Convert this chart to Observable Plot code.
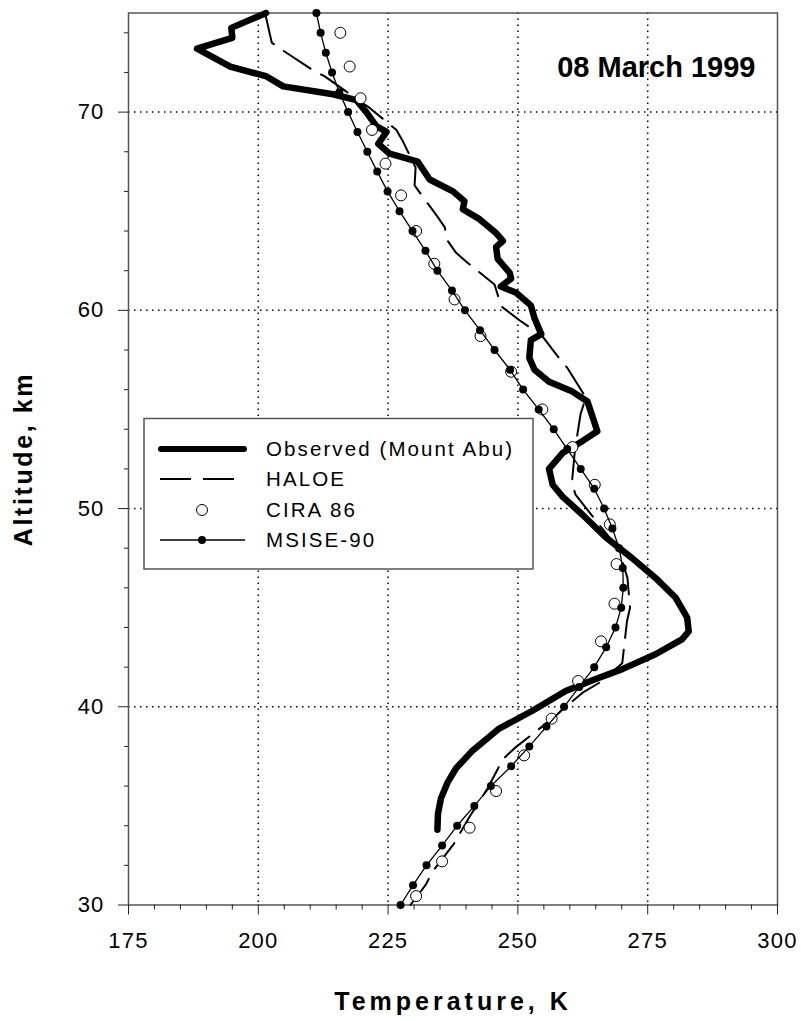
<!DOCTYPE html>
<html>
<head>
<meta charset="utf-8">
<script src="https://cdn.jsdelivr.net/npm/d3@7"></script>
<script src="https://cdn.jsdelivr.net/npm/@observablehq/plot@0.6"></script>
<style>
  html, body { margin: 0; padding: 0; background: #fff; }
  #wrap { position: relative; width: 801px; height: 1021px; font-family: "Liberation Sans", Arial, sans-serif; }
  #legend { position: absolute; left: 0; top: 0; pointer-events: none; }
  g[aria-label="x-axis label"] text { font-weight: bold; font-size: 25px; letter-spacing: 4px; }
  g[aria-label="y-axis label"] text { font-weight: bold; font-size: 25px; letter-spacing: 2.6px; }
  g[aria-label="x-axis tick label"] text, g[aria-label="y-axis tick label"] text { letter-spacing: 1.2px; }
</style>
</head>
<body>
<div id="wrap"></div>
<script>
// ---- Data ----
// MSISE-90 model: altitude (km) and temperature (K)
const msiseAlt = [30,31,32,33,34,35,36,37,38,39,40,41,42,43,44,45,46,47,48,49,50,51,52,53,54,55,56,57,58,59,60,61,62,63,64,65,66,67,68,69,70,71,72,73,74,75];
const msiseT   = [227.4,229.8,232.4,235.4,238.3,241.6,244.8,248.7,252.2,255.5,258.9,261.8,264.7,267.0,268.8,269.9,270.3,270.2,269.5,268.2,266.6,264.7,262.1,259.5,256.9,254.0,251.0,248.5,245.5,242.7,239.8,237.3,234.5,232.2,229.7,227.2,224.9,222.9,221.0,219.1,217.3,215.6,214.2,213.0,212.0,211.2];

// CIRA 86 model
const ciraAlt = [30.45,32.2,33.9,35.75,37.55,39.4,41.3,43.3,45.2,47.2,49.2,51.2,53.1,55.0,56.9,58.7,60.55,62.35,64.0,65.8,67.4,69.1,70.7,72.3,74.0];
const ciraT   = [230.4,235.4,240.7,245.8,251.2,256.5,261.6,266.0,268.6,269.0,267.7,264.8,260.5,254.7,248.7,242.8,237.8,233.9,230.4,227.5,224.5,221.9,219.7,217.6,215.8];

// HALOE
const haloeAlt = [30.0,31.0,31.7,33.1,34.5,35.9,37.35,37.9,39.4,40.7,41.2,42.2,44.3,45.0,46.5,48.0,49.2,50.7,51.3,53.0,54.8,55.6,57.1,57.7,58.7,59.5,60.2,61.3,62.4,62.9,63.5,64.2,64.8,66.3,67.2,68.5,69.1,70.2,71.8,72.1,73.1,73.5,75.0];
const haloeT   = [229.3,232.2,233.6,237.7,240.8,244.2,247.1,249.3,256.6,262.4,265.6,270.1,271.0,271.6,271.1,269.3,265.6,261.1,260.4,261.0,262.1,263.1,259.5,257.6,254.7,250.3,246.8,245.5,240.3,238.1,236.5,235.9,234.3,230.1,230.3,227.9,226.6,221.5,212.8,210.6,204.8,202.6,201.3];

// Observed (Mount Abu) lidar profile
const obsAlt = [33.8,34.6,35.4,36.2,36.9,37.8,38.9,39.8,40.8,41.4,41.9,42.65,43.4,43.8,44.5,45.5,46.5,47.5,48.55,49.7,50.6,51.2,52.0,52.8,53.4,53.9,55.4,55.9,56.4,57.0,57.6,58.5,58.8,59.6,60.25,60.9,61.2,61.6,61.9,62.6,63.2,63.5,63.9,64.6,65.1,65.5,66.0,66.6,67.5,67.9,68.4,69.0,69.3,70.0,70.6,70.9,71.3,71.8,72.3,73.2,73.75,74.25,75.0];
const obsT   = [234.5,234.6,235.2,236.5,238.1,241.3,246.4,252.8,259.2,265.0,270.1,276.5,281.6,282.9,282.6,280.4,276.5,272.0,266.9,262.4,258.6,256.7,256.0,258.6,262.4,265.3,263.4,260.5,256.0,253.2,252.2,252.5,254.5,253.2,252.5,249.6,246.7,248.7,248.4,246.1,245.8,247.1,245.8,242.6,239.4,239.7,237.5,233.0,230.7,225.3,223.1,224.7,222.7,220.8,218.9,214.4,204.8,201.6,194.6,188.2,195.0,194.8,201.5];

// Axis ticks and labels
const xTicks = [175,200,225,250,275,300];
const yTicks = [30,40,50,60,70];
const xGridLines = [200,225,250,275];
const yGridLines = [40,50,60,70];
const xMinorTicks = [180,185,190,195,205,210,215,220,230,235,240,245,255,260,265,270,280,285,290,295];
const yMinorTicks = [32,34,36,38,42,44,46,48,52,54,56,58,62,64,66,68,72,74];

const seriesNames = ["Observed (Mount Abu)", "HALOE", "CIRA 86", "MSISE-90"];
const dateLabel = "08 March 1999";

// ---- Tables ----
const msise = msiseAlt.map((a, i) => ({alt: a, t: msiseT[i]}));
const cira  = ciraAlt.map((a, i) => ({alt: a, t: ciraT[i]}));
const haloe = haloeAlt.map((a, i) => ({alt: a, t: haloeT[i]}));
const obs   = obsAlt.map((a, i) => ({alt: a, t: obsT[i]}));

const FONT = '"Liberation Sans", Arial, sans-serif';

const chart = Plot.plot({
  width: 801,
  height: 1021,
  marginLeft: 128,
  marginRight: 24,
  marginTop: 12.5,
  marginBottom: 116.5,
  style: {fontFamily: FONT, background: "#fff", color: "#000", overflow: "visible"},
  x: {domain: [175, 300]},
  y: {domain: [30, 75]},
  marks: [
    Plot.gridX(xGridLines, {stroke: "#000", strokeOpacity: 1, strokeWidth: 1.5, strokeDasharray: "1.5,4.5"}),
    Plot.gridY(yGridLines, {stroke: "#000", strokeOpacity: 1, strokeWidth: 1.5, strokeDasharray: "1.5,4.5"}),
    Plot.frame({stroke: "#555", strokeWidth: 1.5}),
    Plot.axisX({ticks: xMinorTicks, tickSize: 5, tickFormat: () => "", label: null, stroke: "#222"}),
    Plot.axisY({ticks: yMinorTicks, tickSize: 4, tickFormat: () => "", label: null, stroke: "#222"}),
    Plot.axisX({ticks: xTicks, tickSize: 10, tickPadding: 17, fontSize: 22, stroke: "#222",
      label: "Temperature, K", labelAnchor: "center", labelArrow: "none", labelOffset: 105}),
    Plot.axisY({ticks: yTicks, tickSize: 10, tickPadding: 14, fontSize: 22, stroke: "#222",
      label: "Altitude, km", labelAnchor: "center", labelArrow: "none", labelOffset: 114}),
    Plot.line(haloe, {x: "t", y: "alt", stroke: "#000", strokeWidth: 2, strokeDasharray: "32,12"}),
    Plot.line(obs, {x: "t", y: "alt", stroke: "#000", strokeWidth: 6.5, strokeLinejoin: "round", strokeLinecap: "round"}),
    Plot.dot(cira, {x: "t", y: "alt", r: 5.5, stroke: "#000", strokeWidth: 1, fill: "#fff"}),
    Plot.line(msise, {x: "t", y: "alt", stroke: "#000", strokeWidth: 1.3}),
    Plot.dot(msise, {x: "t", y: "alt", r: 4, fill: "#000", stroke: "none"}),
    Plot.text([dateLabel], {frameAnchor: "top-right", dx: -22, dy: 55, text: d => d, textAnchor: "end",
      lineAnchor: "middle", fontSize: 29, fontWeight: "bold", fill: "#000", style: "letter-spacing:2px"})
  ]
});

const wrap = document.getElementById("wrap");
wrap.appendChild(chart);

// ---- Legend overlay ----
const leg = d3.select(wrap).append("svg").attr("id", "legend")
  .attr("width", 801).attr("height", 1021)
  .style("font-family", FONT);

leg.append("rect").attr("x", 144).attr("y", 418.5).attr("width", 389).attr("height", 150.5)
  .attr("fill", "#fff").attr("stroke", "#555").attr("stroke-width", 1.5);

const rowY = [449, 479, 510, 540];
// Observed
leg.append("line").attr("x1", 161).attr("x2", 244).attr("y1", rowY[0]).attr("y2", rowY[0])
  .attr("stroke", "#000").attr("stroke-width", 6).attr("stroke-linecap", "round");
// HALOE
leg.append("line").attr("x1", 160).attr("x2", 234).attr("y1", rowY[1]).attr("y2", rowY[1])
  .attr("stroke", "#000").attr("stroke-width", 2).attr("stroke-dasharray", "31,12");
// CIRA
leg.append("circle").attr("cx", 202).attr("cy", rowY[2]).attr("r", 5.5)
  .attr("fill", "#fff").attr("stroke", "#000").attr("stroke-width", 1);
// MSISE
leg.append("line").attr("x1", 160).attr("x2", 245).attr("y1", rowY[3]).attr("y2", rowY[3])
  .attr("stroke", "#000").attr("stroke-width", 1.3);
leg.append("circle").attr("cx", 202).attr("cy", rowY[3]).attr("r", 4).attr("fill", "#000");

seriesNames.forEach((name, i) => {
  leg.append("text").attr("x", 266).attr("y", rowY[i]).attr("dy", "0.35em")
    .attr("font-size", 20.5).attr("letter-spacing", "2.1px").attr("fill", "#000").text(name);
});
</script>
</body>
</html>
